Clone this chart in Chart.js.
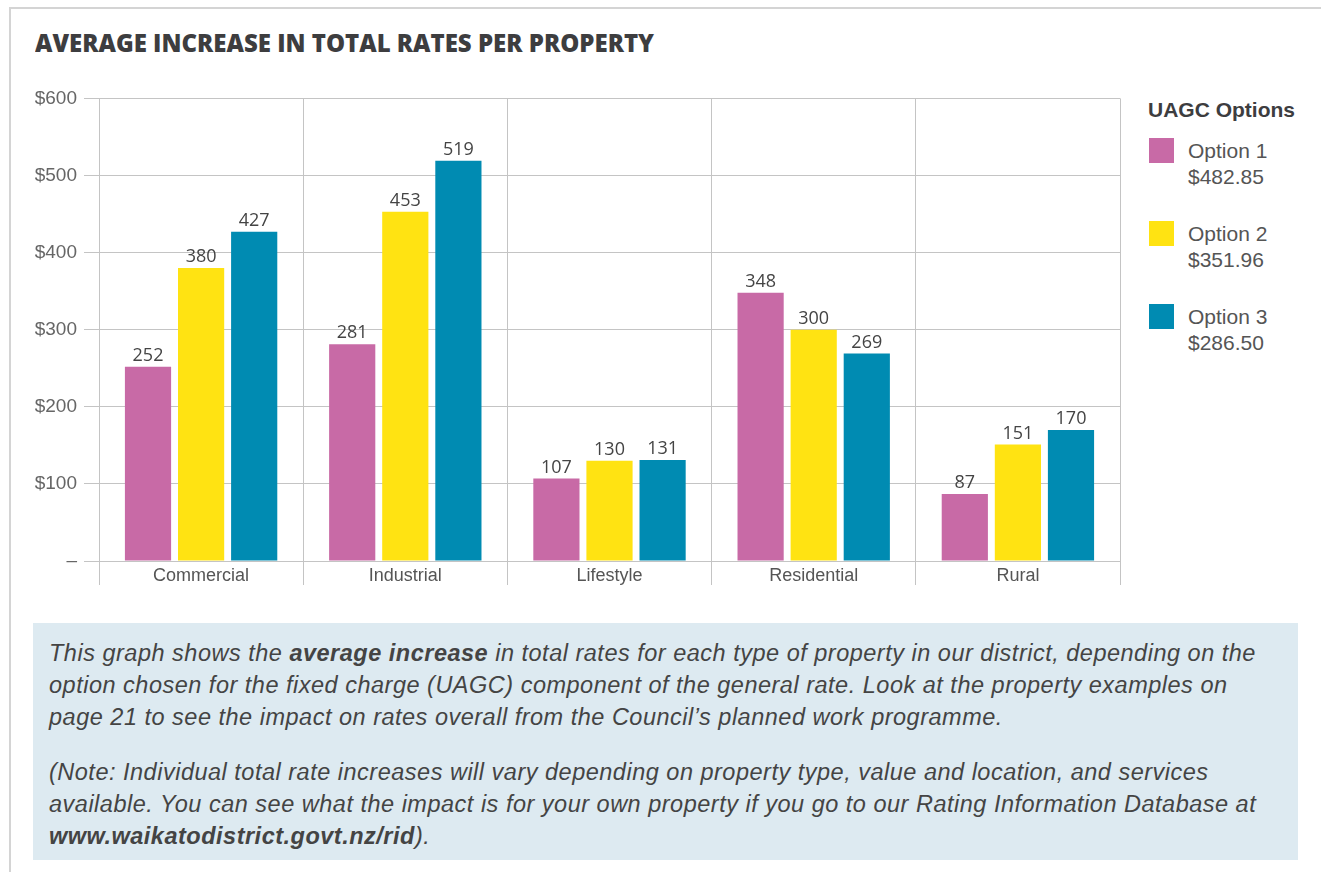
<!DOCTYPE html>
<html>
<head>
<meta charset="utf-8">
<script src="https://cdn.jsdelivr.net/npm/chart.js@4.4.0/dist/chart.umd.min.js"></script>
<style>
  html, body { margin: 0; padding: 0; background: #fff; }
  body { width: 1321px; height: 872px; position: relative; overflow: hidden; font-family: 'Liberation Sans', Arial, sans-serif; }
  #frame { position: absolute; left: 9px; top: 7px; width: 1400px; height: 900px; border-left: 2px solid #d4d4d4; border-top: 2px solid #d4d4d4; }
  #title { position: absolute; left: 35px; top: 25px; font-family: 'Open Sans', sans-serif; font-weight: 800; font-size: 25px; color: #3d3d3f; white-space: nowrap; transform-origin: 0 0; transform: scaleX(0.96); }
  #wrap { position: absolute; left: 0; top: 80px; width: 1124px; height: 530px; }
  #legend { position: absolute; left: 1148px; top: 98px; color: #555; }
  #legend h3 { margin: 0 0 16px 0; font-size: 21px; font-weight: bold; color: #3d3d3f; }
  .item { position: relative; height: 83px; }
  .sw { position: absolute; left: 1px; top: 0; width: 25px; height: 25px; }
  .lab { position: absolute; left: 40px; top: 0; font-size: 21px; line-height: 26px; color: #555; white-space: nowrap; }
  #note { position: absolute; left: 33px; top: 623px; width: 1265px; height: 237px; background: #ddeaf1; box-sizing: border-box; padding: 14px 16px; font-style: italic; font-size: 23.5px; letter-spacing: 0.5px; line-height: 32px; color: #444; white-space: nowrap; }
  #note p { margin: 0 0 23px 0; }
</style>
</head>
<body>
<div id="frame"></div>
<div id="title">AVERAGE INCREASE IN TOTAL RATES PER PROPERTY</div>
<div id="wrap"><canvas id="chart"></canvas></div>
<div id="legend"></div>
<div id="note">
  <p>This graph shows the <b>average increase</b> in total rates for each type of property in our district, depending on the<br>option chosen for the fixed charge (UAGC) component of the general rate. Look at the property examples on<br>page 21 to see the impact on rates overall from the Council’s planned work programme.</p>
  <p>(Note: Individual total rate increases will vary depending on property type, value and location, and services<br>available. You can see what the impact is for your own property if you go to our Rating Information Database at<br><b>www.waikatodistrict.govt.nz/rid</b>).</p>
</div>
<script>
// categories and series
const categories = ['Commercial', 'Industrial', 'Lifestyle', 'Residential', 'Rural'];
const option1 = [252, 281, 107, 348, 87];
const option2 = [380, 453, 130, 300, 151];
const option3 = [427, 519, 131, 269, 170];
const optionNames = ['Option 1', 'Option 2', 'Option 3'];
const uagcAmounts = ['$482.85', '$351.96', '$286.50'];
const optionColors = ['#c86aa6', '#ffe312', '#008bb2'];
const yTicks = [0, 100, 200, 300, 400, 500, 600];

// legend built from the arrays
const legend = document.getElementById('legend');
let html = '<h3>UAGC Options</h3>';
optionNames.forEach((name, i) => {
    html += '<div class="item"><div class="sw" style="background:' + optionColors[i] + '"></div>' +
        '<div class="lab">' + name + '<br>' + uagcAmounts[i] + '</div></div>';
});
legend.innerHTML = html;

// draws the value above each bar
const valueLabels = {
    id: 'valueLabels',
    afterDatasetsDraw(chart) {
        const ctx = chart.ctx;
        ctx.save();
        ctx.font = '18px "Open Sans", sans-serif';
        ctx.fillStyle = '#444';
        ctx.textAlign = 'center';
        ctx.textBaseline = 'bottom';
        chart.data.datasets.forEach((ds, i) => {
            chart.getDatasetMeta(i).data.forEach((bar, j) => {
                ctx.fillText(ds.data[j], bar.x, bar.y - 2);
            });
        });
        ctx.restore();
    }
};

const seriesData = [option1, option2, option3];
new Chart(document.getElementById('chart').getContext('2d'), {
    type: 'bar',
    data: {
        labels: categories,
        datasets: seriesData.map((d, i) => ({
            label: optionNames[i],
            data: d,
            backgroundColor: optionColors[i],
            categoryPercentage: 0.78,
            barPercentage: 0.87
        }))
    },
    options: {
        responsive: true,
        maintainAspectRatio: false,
        animation: false,
        layout: { padding: { top: 17, right: 4, left: 0, bottom: 0 } },
        plugins: { legend: { display: false }, tooltip: { enabled: false } },
        scales: {
            x: {
                grid: { color: '#c4c4c4', lineWidth: 1, tickLength: 24, offset: true },
                border: { color: '#c4c4c4' },
                ticks: { color: '#555', font: { size: 18, family: 'Liberation Sans' }, padding: -20 },
                afterFit: s => { s.height = 49; }
            },
            y: {
                min: 0,
                max: 600,
                afterBuildTicks: s => { s.ticks = yTicks.map(v => ({ value: v })); },
                grid: { color: '#c4c4c4', lineWidth: 1, tickLength: 15 },
                border: { color: '#c4c4c4' },
                ticks: {
                    color: '#666',
                    font: { size: 19, family: 'Liberation Sans' },
                    padding: 7,
                    callback: v => v === 0 ? '–' : '$' + v
                },
                afterFit: s => { s.width = 99; }
            }
        }
    },
    plugins: [valueLabels]
});
</script>
</body>
</html>
